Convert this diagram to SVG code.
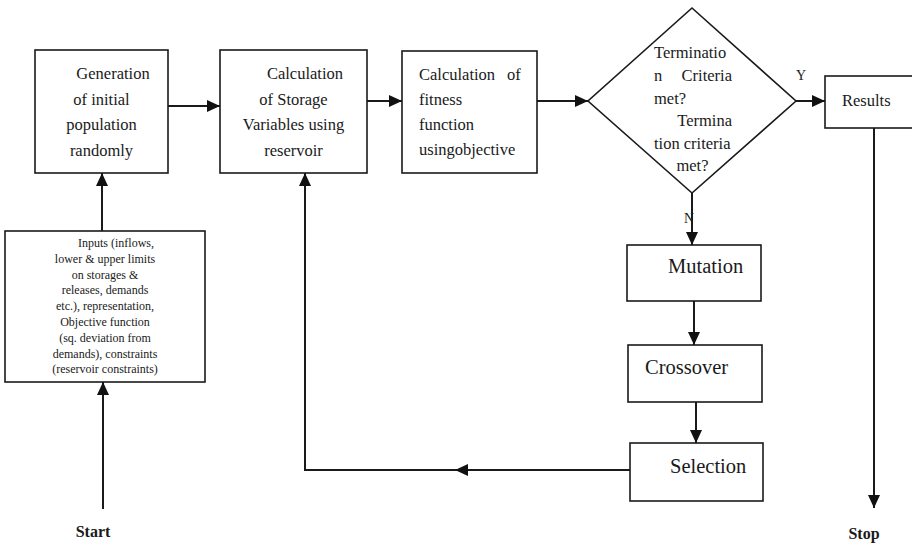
<svg xmlns="http://www.w3.org/2000/svg" width="912" height="545" viewBox="0 0 912 545">
<style>
.box{fill:#fff;stroke:#1a1a1a;stroke-width:1.6}
.t{font-family:"Liberation Serif","Times New Roman",serif;fill:#1a1a1a}
.m{font-size:16.5px}
.s{font-size:12px}
.b{font-size:20.5px}
.c{text-anchor:middle}
.e{text-anchor:end}
.conn{fill:none;stroke:#1a1a1a;stroke-width:2}
</style>
<defs>
<marker id="ah" viewBox="0 0 13 12" refX="13" refY="6" markerWidth="13" markerHeight="12" markerUnits="userSpaceOnUse" orient="auto">
<path d="M0,0 L13,6 L0,12 Z" fill="#111"/>
</marker>
</defs>
<rect width="912" height="545" fill="#fff"/>
<g id="connectors">
<path class="conn" d="M103,509 V382" marker-end="url(#ah)"/>
<path class="conn" d="M102,231 V173" marker-end="url(#ah)"/>
<path class="conn" d="M168,106 H220" marker-end="url(#ah)"/>
<path class="conn" d="M367,101 H402" marker-end="url(#ah)"/>
<path class="conn" d="M537,101 H588" marker-end="url(#ah)"/>
<path class="conn" d="M796,101 H825" marker-end="url(#ah)"/>
<path class="conn" d="M692,193 V245" marker-end="url(#ah)"/>
<path class="conn" d="M694,301 V345" marker-end="url(#ah)"/>
<path class="conn" d="M696,402 V443" marker-end="url(#ah)"/>
<path class="conn" d="M630,470 H455" marker-end="url(#ah)"/>
<path class="conn" d="M455,470 H305 V173" stroke-width="1.6" marker-end="url(#ah)"/>
<path class="conn" d="M874,128 V508" marker-end="url(#ah)"/>
<text class="t" x="796" y="80" font-size="14">Y</text>
<text class="t" x="684" y="223" font-size="14">N</text>
</g>
<g id="start"><text class="t" x="93" y="537" font-size="16" font-weight="bold" text-anchor="middle">Start</text></g>
<g id="stop"><text class="t" x="864" y="539" font-size="16" font-weight="bold" text-anchor="middle">Stop</text></g>
<g id="inputs">
<rect class="box" x="5" y="231" width="200" height="151"/>
<text class="t s c" x="105" y="247"><tspan x="116">Inputs (inflows,</tspan><tspan x="105" dy="15.8">lower &amp; upper limits</tspan><tspan x="105" dy="15.8">on storages &amp;</tspan><tspan x="105" dy="15.8">releases, demands</tspan><tspan x="105" dy="15.8">etc.), representation,</tspan><tspan x="105" dy="15.8">Objective function</tspan><tspan x="105" dy="15.8">(sq. deviation from</tspan><tspan x="105" dy="15.8">demands), constraints</tspan><tspan x="105" dy="15.8">(reservoir constraints)</tspan></text>
</g>
<g id="generation">
<rect class="box" x="35" y="50" width="133" height="123"/>
<text class="t m c" y="79"><tspan x="113">Generation</tspan><tspan x="101.5" dy="25.5">of initial</tspan><tspan x="101.5" dy="25.5">population</tspan><tspan x="101.5" dy="25.5">randomly</tspan></text>
</g>
<g id="storage">
<rect class="box" x="220" y="50" width="147" height="123"/>
<text class="t m c" y="79"><tspan x="305">Calculation</tspan><tspan x="293.5" dy="25.5">of Storage</tspan><tspan x="293.5" dy="25.5">Variables using</tspan><tspan x="293.5" dy="25.5">reservoir</tspan></text>
</g>
<g id="fitness">
<rect class="box" x="402" y="51" width="135" height="122"/>
<text class="t m" x="419" y="80">Calculation</text>
<text class="t m" x="507" y="80">of</text>
<text class="t m" x="419" y="105">fitness</text>
<text class="t m" x="419" y="130">function</text>
<text class="t m" x="419" y="155">usingobjective</text>
</g>
<g id="decision">
<polygon class="box" points="692,8 796,101 692,193 588,101"/>
<text class="t m" x="654" y="58">Terminatio</text>
<text class="t m" x="654" y="81">n</text>
<text class="t m e" x="732" y="81">Criteria</text>
<text class="t m" x="654" y="104">met?</text>
<text class="t m e" x="732" y="126">Termina</text>
<text class="t m" x="654" y="149">tion criteria</text>
<text class="t m c" x="692.5" y="171">met?</text>
</g>
<g id="results">
<rect class="box" x="825" y="76" width="100" height="52"/>
<text class="t m" x="842" y="106">Results</text>
</g>
<g id="mutation">
<rect class="box" x="627" y="245" width="134" height="56"/>
<text class="t b" x="668" y="273">Mutation</text>
</g>
<g id="crossover">
<rect class="box" x="628" y="345" width="134" height="57"/>
<text class="t b" x="645" y="374">Crossover</text>
</g>
<g id="selection">
<rect class="box" x="630" y="443" width="133" height="58"/>
<text class="t b" x="670" y="473">Selection</text>
</g>
</svg>
